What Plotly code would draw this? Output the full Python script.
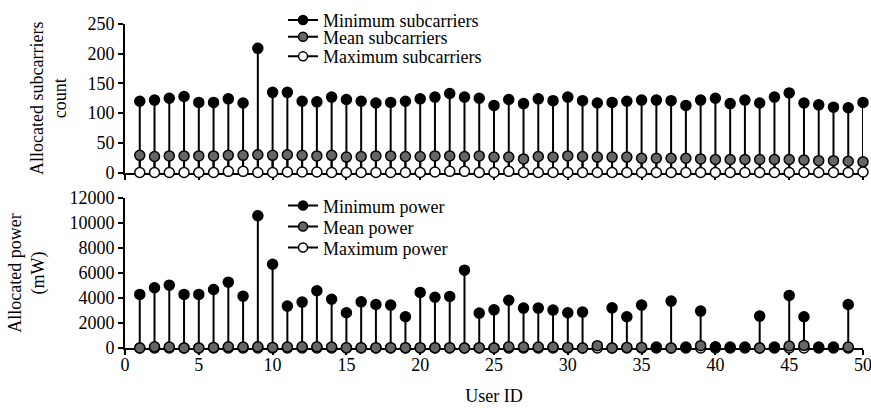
import plotly.graph_objects as go

# ---- data ----
users = list(range(1, 51))

sub_min = [120, 122, 125, 128, 118, 118, 124, 117, 209, 135,
           135, 120, 119, 127, 123, 120, 117, 118, 120, 124,
           127, 133, 127, 125, 113, 123, 116, 124, 121, 127,
           121, 117, 118, 120, 122, 122, 121, 113, 122, 125,
           116, 122, 117, 127, 134, 117, 114, 110, 109, 118]
sub_mean = [29, 27, 28, 28, 28, 28, 29, 29, 30, 29,
            30, 29, 28, 29, 26, 27, 28, 28, 27, 27,
            28, 28, 27, 28, 26, 26, 23, 27, 26, 28,
            27, 26, 26, 26, 24, 24, 24, 24, 23, 22,
            22, 22, 22, 22, 22, 21, 20, 20, 19, 18]
sub_max = [0, 0, 0, 0, 0, 0, 2, 2, 0, 0,
           1, 1, 1, 0, 0, 0, 0, 0, 0, 0,
           1, 2, 2, 0, 0, 2, 0, 0, 0, 0,
           0, 0, 0, 0, 0, 0, 0, 0, 0, 0,
           0, 0, 0, 0, 0, 0, 0, 0, 0, 1]

pow_min = [4280, 4810, 5020, 4280, 4280, 4670, 5260, 4140, 10570, 6690,
           3350, 3670, 4570, 3900, 2820, 3690, 3480, 3430, 2500, 4440,
           4060, 4120, 6220, 2790, 3050, 3820, 3190, 3190, 3030, 2820,
           2870, None, 3210, 2500, 3430, 80, 3750, 80, 2950, 100,
           80, 80, 2550, 80, 4200, 2500, 80, 80, 3480, None]
pow_mean = [0, 100, 80, 0, 0, 50, 100, 80, 100, 50,
            80, 100, 100, 80, 30, 30, 30, 30, 30, 30,
            30, 30, 0, 30, 0, 100, 80, 80, 80, 50,
            0, 190, 0, 50, 50, None, 0, None, 190, None,
            None, None, 0, None, 160, 210, None, None, 80, None]
pow_max = [0] * 49 + [None]

FONT = "Liberation Serif"
GRAY = "#666666"
FS = 18


def stems(vals):
    # vertical stem segments from 0 up to each value
    xs, ys = [], []
    for u, v in zip(users, vals):
        if v is None:
            continue
        xs += [u, u, None]
        ys += [0, v, None]
    return xs, ys


fig = go.Figure()

# stems first so the markers sit on top
for vals, xa, ya in [(sub_min, "x", "y"), (sub_mean, "x", "y"), (sub_max, "x", "y"),
                     (pow_min, "x2", "y2"), (pow_mean, "x2", "y2"), (pow_max, "x2", "y2")]:
    sx, sy = stems(vals)
    fig.add_trace(go.Scatter(x=sx, y=sy, mode="lines", line=dict(color="black", width=2),
                             xaxis=xa, yaxis=ya, showlegend=False, hoverinfo="skip",
                             cliponaxis=False))

# top panel markers
fig.add_trace(go.Scatter(x=users, y=sub_min, mode="markers", xaxis="x", yaxis="y",
                         marker=dict(size=10, color="black", line=dict(color="black", width=1.5)),
                         showlegend=False, cliponaxis=False))
fig.add_trace(go.Scatter(x=users, y=sub_mean, mode="markers", xaxis="x", yaxis="y",
                         marker=dict(size=10, color=GRAY, line=dict(color="black", width=1.5)),
                         showlegend=False, cliponaxis=False))
fig.add_trace(go.Scatter(x=users, y=sub_max, mode="markers", xaxis="x", yaxis="y",
                         marker=dict(size=10, color="white", line=dict(color="black", width=1.5)),
                         showlegend=False, cliponaxis=False))

# bottom panel markers (max under mean under min)
fig.add_trace(go.Scatter(x=users, y=pow_max, mode="markers", xaxis="x2", yaxis="y2",
                         marker=dict(size=10, color="white", line=dict(color="black", width=1.5)),
                         showlegend=False, cliponaxis=False))
fig.add_trace(go.Scatter(x=users, y=pow_mean, mode="markers", xaxis="x2", yaxis="y2",
                         marker=dict(size=10, color=GRAY, line=dict(color="black", width=1.5)),
                         showlegend=False, cliponaxis=False))
fig.add_trace(go.Scatter(x=users, y=pow_min, mode="markers", xaxis="x2", yaxis="y2",
                         marker=dict(size=10, color="black", line=dict(color="black", width=1.5)),
                         showlegend=False, cliponaxis=False))

# legend entries, one legend each so the spacing can be set
legend_items = [
    ("Minimum subcarriers", "black", "legend", 1.0114),
    ("Mean subcarriers", GRAY, "legend2", 0.9599),
    ("Maximum subcarriers", "white", "legend3", 0.8992),
    ("Minimum power", "black", "legend4", 0.4388),
    ("Mean power", GRAY, "legend5", 0.3741),
    ("Maximum power", "white", "legend6", 0.3093),
]
legend_layout = {}
for name, col, lg, ypos in legend_items:
    fig.add_trace(go.Scatter(x=[None], y=[None], mode="lines+markers", name=name,
                             line=dict(color="black", width=2),
                             marker=dict(size=9, color=col, line=dict(color="black", width=1.5)),
                             legend=lg, showlegend=True))
    legend_layout[lg] = dict(x=0.2141, y=ypos, xanchor="left", yanchor="middle",
                             bgcolor="rgba(0,0,0,0)", font=dict(family=FONT, size=FS, color="black"),
                             itemwidth=30)

axis_style = dict(showline=True, linecolor="black", linewidth=2, ticks="outside",
                  ticklen=5, tickwidth=2, tickcolor="black", showgrid=False, zeroline=False,
                  layer="below traces", automargin=False, tickformat="d",
                  tickfont=dict(family=FONT, size=FS, color="black"))

fig.update_layout(
    width=871,
    height=408,
    margin=dict(l=125, r=8, t=24, b=60, autoexpand=False),
    paper_bgcolor="white",
    plot_bgcolor="white",
    font=dict(family=FONT, size=FS, color="black"),
    xaxis=dict(range=[0, 50], dtick=5, anchor="y", showticklabels=False, **axis_style),
    yaxis=dict(range=[0, 250], dtick=50, domain=[0.5415, 1], anchor="x",
               title=dict(text="Allocated subcarriers<br>count", standoff=16,
                          font=dict(family=FONT, size=FS)),
               **axis_style),
    xaxis2=dict(range=[0, 50], dtick=5, anchor="y2", ticklabelstandoff=-6,
                ticklabeloverflow="allow",
                title=dict(text="User ID", standoff=16, font=dict(family=FONT, size=FS)),
                **axis_style),
    yaxis2=dict(range=[0, 12000], dtick=2000, domain=[0, 0.4635], anchor="x2",
                title=dict(text="Allocated power<br>(mW)", standoff=20,
                           font=dict(family=FONT, size=FS)),
                **axis_style),
    **legend_layout,
)

# drop the default page margin so the 871x408 figure fills the window
fig.write_html("out.html", config={"displayModeBar": False},
               post_script="document.body.style.margin='0';document.body.style.overflow='hidden';")
